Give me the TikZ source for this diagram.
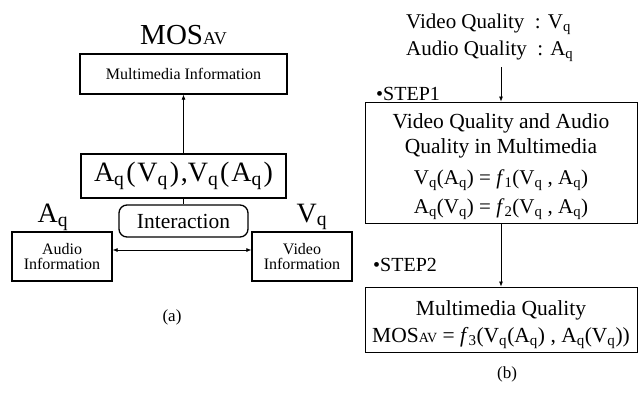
\documentclass[tikz,border=0pt]{standalone}
\usepackage{fontspec}
\setmainfont{Liberation Serif}
\usetikzlibrary{arrows.meta}
\newcommand\fsz[1]{\fontsize{#1}{#1}\selectfont}
\newcommand\qs{\textsubscript{q}}
\newcommand\ffn[1]{\textit{f}\textsubscript{#1}}
\newcommand\kk{\kern1.8pt}
\begin{document}
\begin{tikzpicture}[x=1pt,y=-1pt,
  lbox/.style={draw, line width=1.3pt, inner sep=0pt, align=center},
  rbox/.style={draw, line width=0.9pt, inner sep=0pt},
  arr/.style={-{Latex[length=5pt,width=4pt]}, line width=0.7pt},
  darr/.style={{Latex[length=5pt,width=4pt]}-{Latex[length=5pt,width=4pt]}, line width=0.7pt},
  plain/.style={line width=0.7pt},
  txt/.style={inner sep=0pt}]
\useasboundingbox (0,0) rectangle (642,394);
% ---------- (a) ----------
\node[txt, font=\fsz{29}] (mos) at (183.5,35) {MOS{\fsz{18}AV}};
\node[lbox, minimum width=207pt, minimum height=40pt, font=\fsz{16}] (mm) at (183.5,74) {Multimedia Information};
\node[lbox, minimum width=205pt, minimum height=44pt, font=\fsz{28}] (fn) at (183.5,176) {A\qs\kk(\kk V\qs\kk)\kk,V\qs\kk(\kk A\qs\kk)};
\node[lbox, rounded corners=8pt, minimum width=129pt, minimum height=32pt, font=\fsz{21.5}] (int) at (183.5,221) {Interaction};
\node[lbox, minimum width=100pt, minimum height=49pt, font=\fsz{16}] (aud) at (62,256.5) {Audio\\[-1pt]Information};
\node[lbox, minimum width=100pt, minimum height=49pt, font=\fsz{16}] (vid) at (302,256.5) {Video\\[-1pt]Information};
\node[txt, font=\fsz{28}] (aq) at (53,217) {A\qs};
\node[txt, font=\fsz{28}] (vq) at (312,217) {V\qs};
\node[txt, font=\fsz{17}] (la) at (172,317) {(a)};
\draw[arr] (fn.north) -- (mm.south);
\draw[plain] (fn.south) -- (int.north);
\draw[darr] ([yshift=6.5pt]aud.east) -- ([yshift=6.5pt]vid.west);
% ---------- (b) ----------
\node[txt, anchor=base west, font=\fsz{21}] (vqual) at (406,28) {Video Quality~~: V\qs};
\node[txt, anchor=base west, font=\fsz{21}] (aqual) at (406,55) {Audio Quality~~: A\qs};
\node[txt, anchor=base west, font=\fsz{20}] (s1lab) at (376,100) {•STEP1};
\node[rbox, minimum width=272pt, minimum height=121pt] (s1) at (501,162.5) {};
\node[txt, anchor=base, font=\fsz{21.5}] (s1t1) at (501,128) {Video Quality and Audio};
\node[txt, anchor=base, font=\fsz{21.5}] (s1t2) at (501,153) {Quality in Multimedia};
\node[txt, anchor=base, font=\fsz{21}] (s1t3) at (501,184) {V\qs(A\qs) = \ffn{1}(V\qs\ , A\qs)};
\node[txt, anchor=base, font=\fsz{21}] (s1t4) at (501,213) {A\qs(V\qs) = \ffn{2}(V\qs\ , A\qs)};
\node[txt, anchor=base west, font=\fsz{20}] (s2lab) at (373,271) {•STEP2};
\node[rbox, minimum width=272pt, minimum height=65pt] (s2) at (501,319.5) {};
\node[txt, anchor=base, font=\fsz{21.5}] (s2t1) at (501,315) {Multimedia Quality};
\node[txt, anchor=base, font=\fsz{21.5}] (s2t2) at (501,342) {MOS{\fsz{14}AV} = \ffn{3}(V\qs(A\qs) , A\qs(V\qs))};
\node[txt, font=\fsz{17}] (lb) at (507,374) {(b)};
\draw[arr] ([yshift=-6pt]s1.north |- aqual.south) -- (s1.north);
\draw[arr] (s1.south) -- (s2.north);
\end{tikzpicture}
\end{document}
